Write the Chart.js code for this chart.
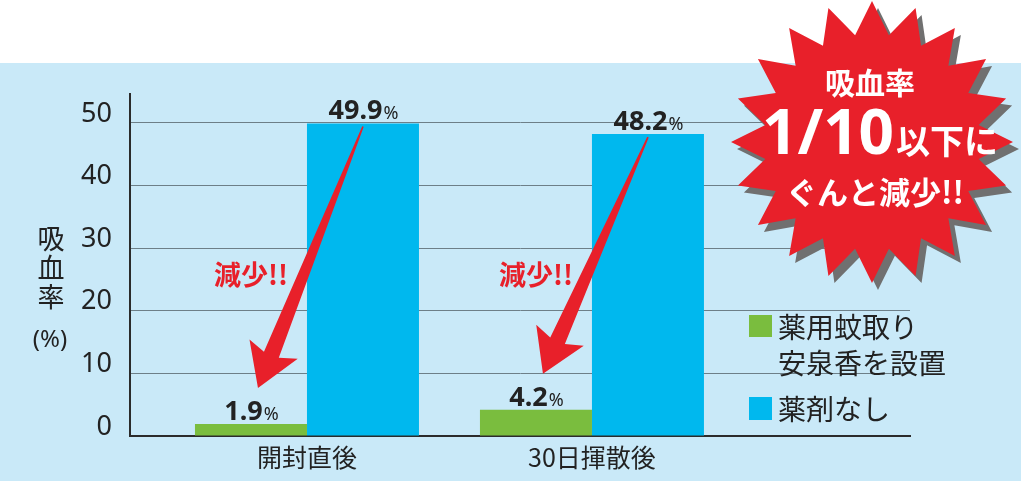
<!DOCTYPE html>
<html><head><meta charset="utf-8">
<script src="https://cdn.jsdelivr.net/npm/chart.js@4.4.0/dist/chart.umd.min.js"></script>
<style>html,body{margin:0;padding:0;background:#fff;}#wrap{width:1024px;height:481px;position:relative;}</style>
</head><body><div id="wrap"><canvas id="c" width="1024" height="481"></canvas></div>
<script>
// ---- data ----
const categories = ['開封直後', '30日揮散後'];
const seriesNames = [['薬用蚊取り', '安泉香を設置'], ['薬剤なし']];
const withCoil = [1.9, 4.2];
const noTreatment = [49.9, 48.2];
const yTicks = [0, 10, 20, 30, 40, 50];
const yTitle = ['吸', '血', '率'];
const yUnit = '(%)';
const arrowText = '減少!!';
const burstTitle = '吸血率';
const burstBig = '1/10';
const burstSmall = '以下に';
const burstBottom = 'ぐんと減少!!';

const JP = '"Noto Sans CJK JP", "Noto Sans", sans-serif';
const NUM = '"Noto Sans", "Liberation Sans", sans-serif';
const GREEN = '#7abd3e';
const BLUE = '#00b8ee';
const RED = '#e8202a';
const INK = '#222222';

const bgPlugin = {
  id: 'bg',
  beforeDraw(chart) {
    const c = chart.ctx;
    c.save();
    c.fillStyle = '#ffffff';
    c.fillRect(0, 0, chart.width, chart.height);
    c.fillStyle = '#c9e9f8';
    c.fillRect(0, 63, 1021, chart.height - 63);
    c.restore();
  }
};

function drawArrow(c, x0, y0, x1, y1) {
  const dx = x1 - x0, dy = y1 - y0;
  const L = Math.hypot(dx, dy);
  const ux = dx / L, uy = dy / L;
  const px = -uy, py = ux;
  const headLen = 36, shaftHalf = 8, wingHalf = 26;
  const bx = x1 - ux * headLen, by = y1 - uy * headLen;
  c.beginPath();
  c.moveTo(x0 - px * 0.8, y0 - py * 0.8);
  c.lineTo(x0 + px * 0.8, y0 + py * 0.8);
  c.lineTo(bx + px * shaftHalf, by + py * shaftHalf);
  c.lineTo(bx + px * wingHalf - ux * 6, by + py * wingHalf - uy * 6);
  c.lineTo(x1, y1);
  c.lineTo(bx - px * wingHalf - ux * 6, by - py * wingHalf - uy * 6);
  c.lineTo(bx - px * shaftHalf, by - py * shaftHalf);
  c.closePath();
  c.fillStyle = RED;
  c.fill();
}

function starPath(c, cx, cy, n, rOut, rIn) {
  c.beginPath();
  for (let i = 0; i < n * 2; i++) {
    const r = i % 2 === 0 ? rOut : rIn;
    const a = -Math.PI / 2 + i * Math.PI / n;
    const x = cx + r * Math.cos(a), y = cy + r * Math.sin(a);
    if (i === 0) c.moveTo(x, y); else c.lineTo(x, y);
  }
  c.closePath();
}

const overlay = {
  id: 'overlay',
  afterDatasetsDraw(chart) {
    const c = chart.ctx;
    const g = chart.getDatasetMeta(0).data;
    const b = chart.getDatasetMeta(1).data;
    c.save();
    // value labels
    [0, 1].forEach(di => {
      const meta = chart.getDatasetMeta(di);
      const vals = chart.data.datasets[di].data;
      meta.data.forEach((bar, i) => {
        const num = vals[i].y.toFixed(1);
        c.font = 'bold 27px ' + NUM;
        const w1 = c.measureText(num).width;
        c.font = '18px ' + NUM;
        const w2 = c.measureText('%').width;
        const x = bar.x - (w1 + w2) / 2;
        const y = bar.y - 4;
        c.fillStyle = INK;
        c.textBaseline = 'alphabetic';
        c.textAlign = 'left';
        c.font = 'bold 27px ' + NUM;
        c.fillText(num, x, y);
        c.font = '18px ' + NUM;
        c.fillText('%', x + w1 + 1, y);
      });
    });
    // arrows + 減少!!
    for (let i = 0; i < g.length; i++) {
      drawArrow(c, b[i].x, b[i].y + 3, g[i].x + 7, g[i].y - 36);
      c.font = 'bold 27px ' + JP;
      c.fillStyle = RED;
      c.textAlign = 'center';
      c.textBaseline = 'middle';
      c.fillText(arrowText, g[i].x, 275);
    }
    // y title
    c.fillStyle = INK;
    c.textAlign = 'center';
    c.textBaseline = 'middle';
    c.font = '27px ' + JP;
    yTitle.forEach((ch, i) => c.fillText(ch, 51, 239 + i * 29));
    c.font = '24px ' + NUM;
    c.fillText(yUnit, 50, 340);
    // legend
    const ds = chart.data.datasets;
    c.textAlign = 'left';
    c.font = '28px ' + JP;
    c.fillStyle = ds[0].backgroundColor;
    c.fillRect(749, 315, 23, 22);
    c.fillStyle = INK;
    seriesNames[0].forEach((t, i) => c.fillText(t, 778, 327 + i * 36));
    c.fillStyle = ds[1].backgroundColor;
    c.fillRect(749, 397, 23, 23);
    c.fillStyle = INK;
    c.fillText(seriesNames[1][0], 778, 409);
    // starburst
    const cx = 872, cy = 142;
    c.fillStyle = '#707070';
    starPath(c, cx + 6, cy + 7, 20, 141, 108);
    c.fill();
    c.fillStyle = RED;
    starPath(c, cx, cy, 20, 141, 108);
    c.fill();
    c.fillStyle = '#ffffff';
    c.textAlign = 'center';
    c.textBaseline = 'alphabetic';
    c.font = 'bold 30px ' + JP;
    c.fillText(burstTitle, 870, 94);
    c.font = 'bold 62px ' + NUM;
    const wb = c.measureText(burstBig).width;
    c.font = 'bold 34px ' + JP;
    const ws = c.measureText(burstSmall).width;
    const sx = 879 - (wb + ws) / 2;
    c.textAlign = 'left';
    c.font = 'bold 62px ' + NUM;
    c.fillText(burstBig, sx, 154);
    c.font = 'bold 34px ' + JP;
    c.fillText(burstSmall, sx + wb + 2, 154);
    c.textAlign = 'center';
    c.font = 'bold 31px ' + JP;
    c.fillText(burstBottom, 875, 204);
    c.restore();
  }
};

new Chart(document.getElementById('c').getContext('2d'), {
  type: 'bar',
  data: {
    datasets: [
      { label: seriesNames[0].join(''), data: categories.map((c, i) => ({ x: i + 1, y: withCoil[i] })), backgroundColor: GREEN },
      { label: seriesNames[1].join(''), data: categories.map((c, i) => ({ x: i + 1, y: noTreatment[i] })), backgroundColor: BLUE }
    ]
  },
  options: {
    responsive: false,
    animation: false,
    devicePixelRatio: 1,
    datasets: { bar: { categoryPercentage: 0.786, barPercentage: 1 } },
    layout: { padding: { left: 0, top: 94, right: 114, bottom: 0 } },
    plugins: { legend: { display: false }, tooltip: { enabled: false }, title: { display: false } },
    scales: {
      x: {
        type: 'linear', min: 0.379, max: 3.116, offset: false,
        afterBuildTicks: s => { s.ticks = categories.map((c, i) => ({ value: i + 1 })); },
        afterFit: s => { s.height = 45; },
        grid: { display: false, drawTicks: false, offset: false },
        border: { display: true, color: '#2b2b2b', width: 2 },
        ticks: { callback: v => categories[v - 1] || '', font: { family: JP, size: 25 }, color: INK, padding: 6, maxRotation: 0, autoSkip: false }
      },
      y: {
        min: 0, max: 54.6,
        afterBuildTicks: s => { s.ticks = yTicks.map(v => ({ value: v })); },
        afterFit: s => { s.width = 130; },
        grid: { color: '#6d7f88', lineWidth: 1, drawTicks: false },
        border: { display: true, color: '#2b2b2b', width: 2 },
        ticks: { font: { family: NUM, size: 27 }, color: INK, padding: 18, labelOffset: -9 }
      }
    }
  },
  plugins: [bgPlugin, overlay]
});
</script></body></html>
